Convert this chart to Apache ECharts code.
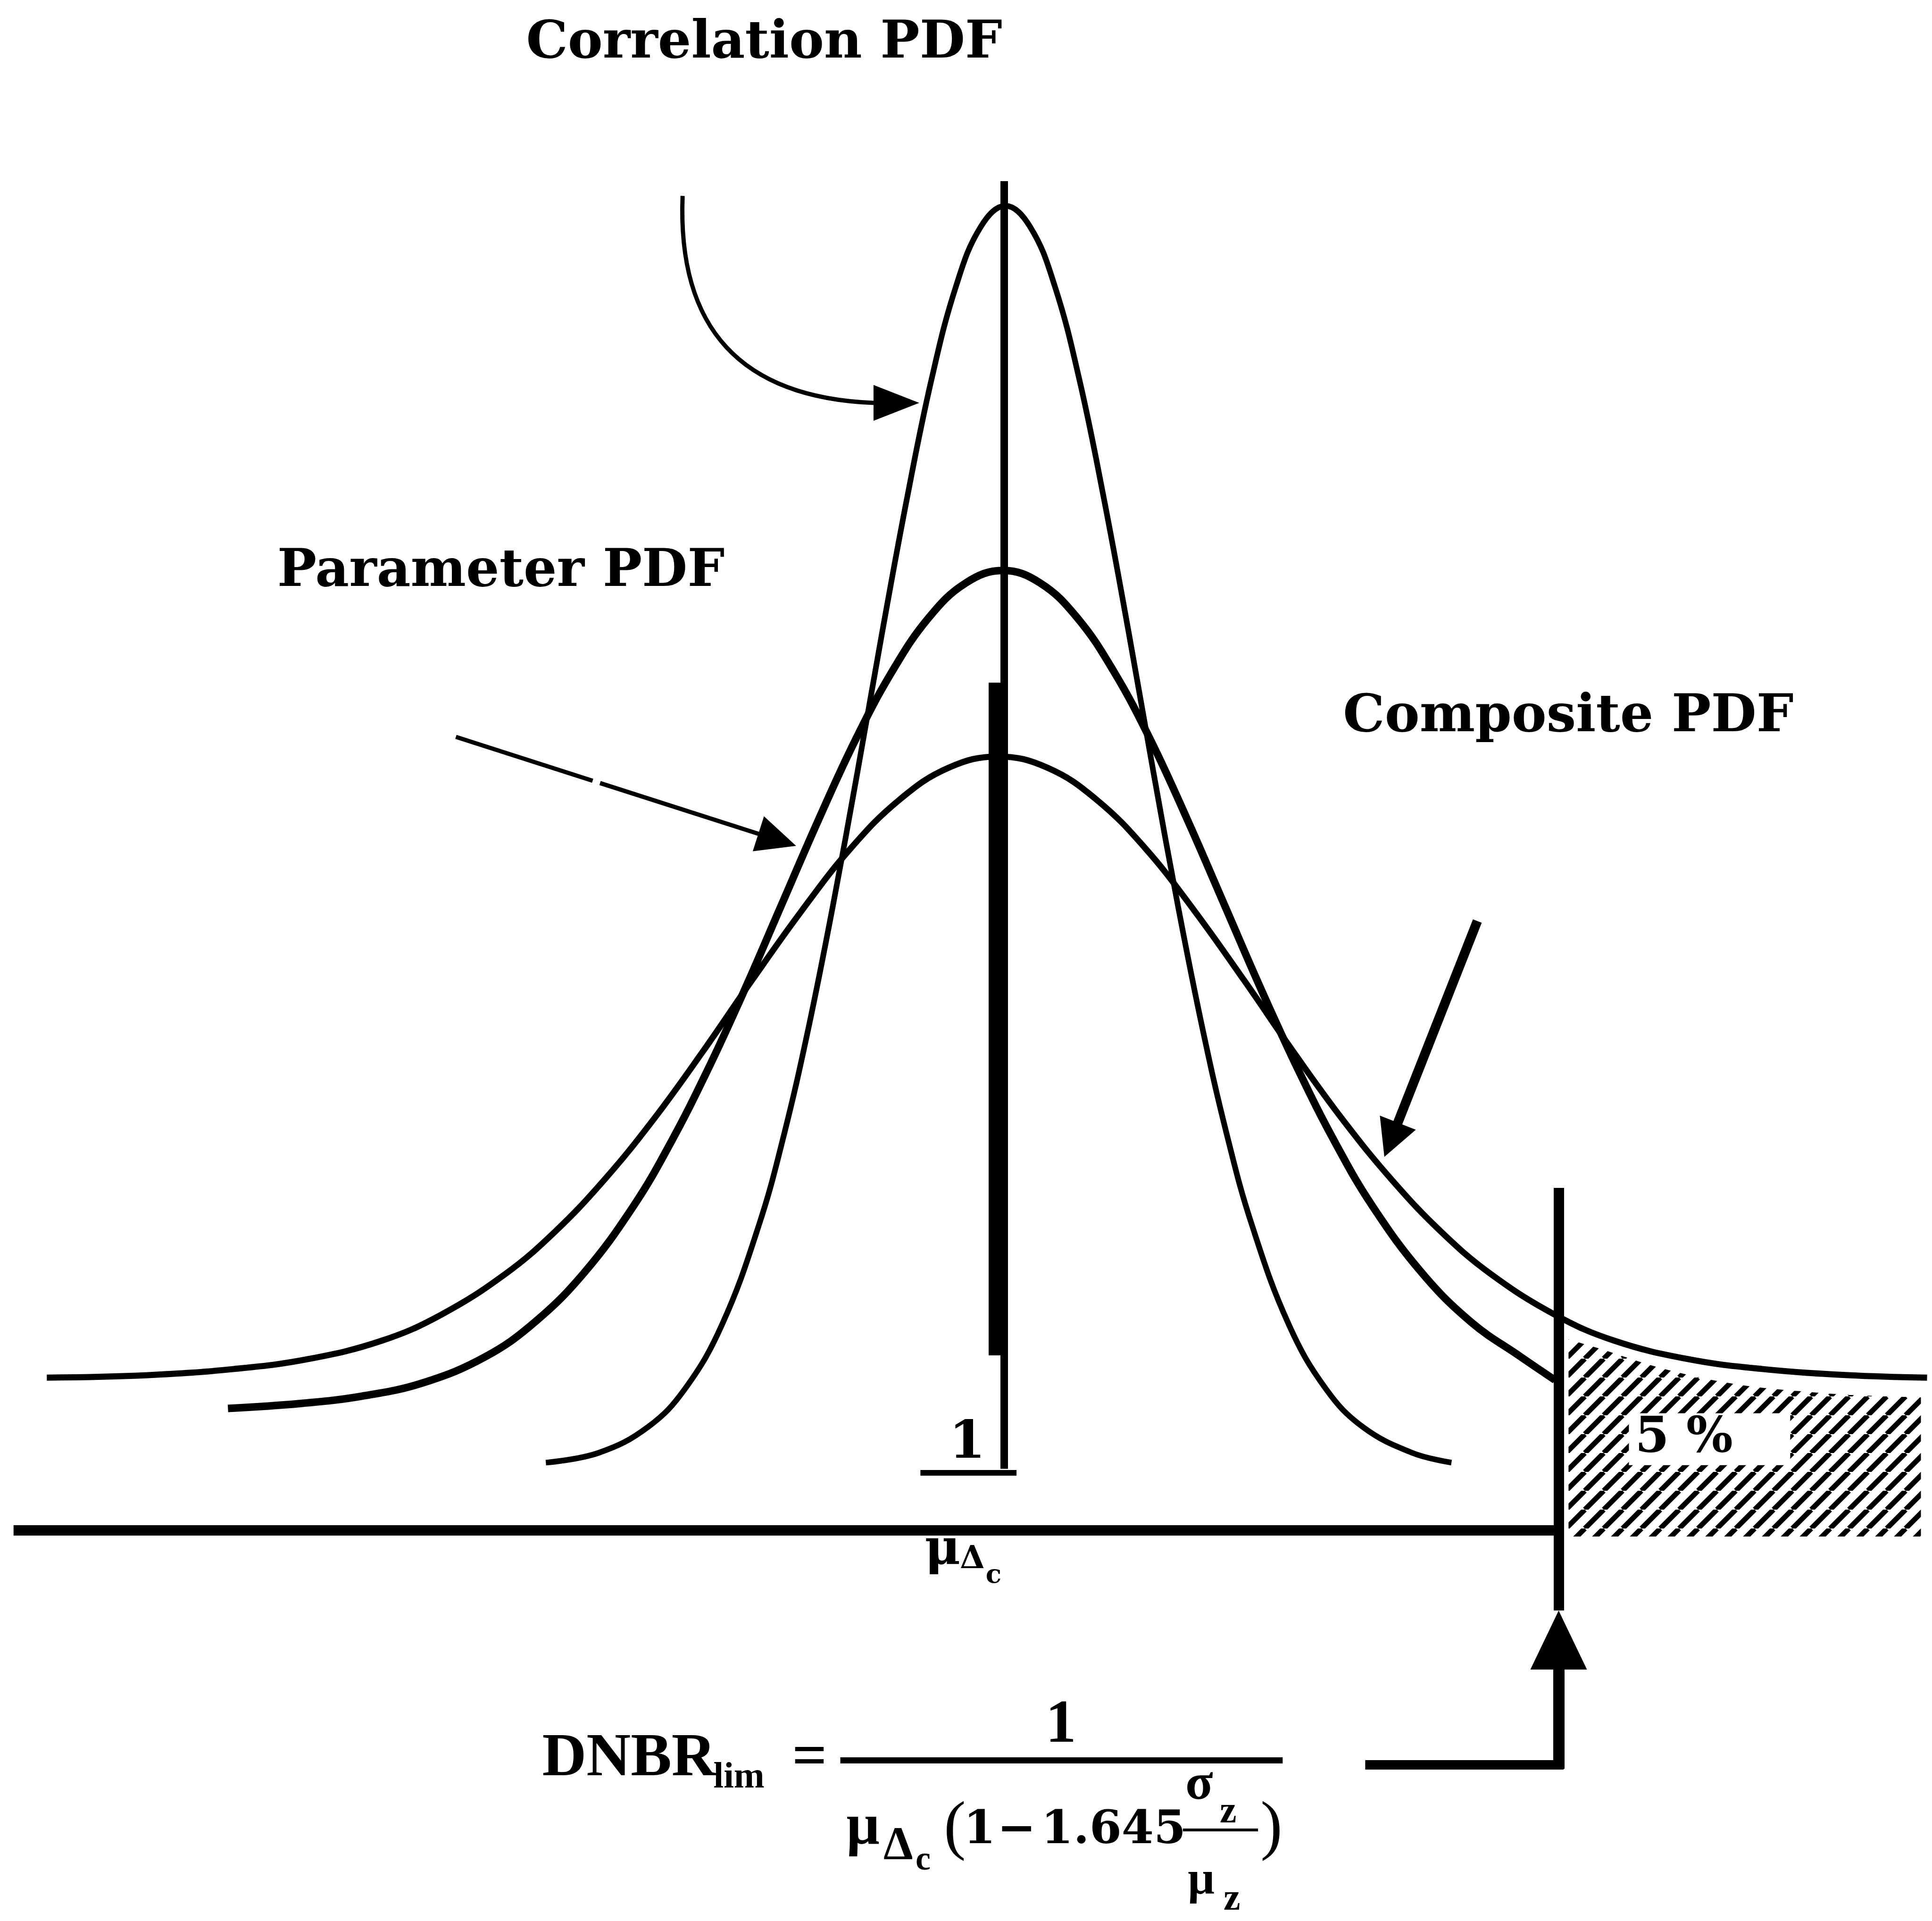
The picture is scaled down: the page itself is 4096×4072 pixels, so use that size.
<!DOCTYPE html>
<html>
<head>
<meta charset="utf-8">
<script src="https://cdn.jsdelivr.net/npm/echarts@6/dist/echarts.min.js"></script>
<style>
html, body { margin: 0; padding: 0; background: #fff; }
#chart { width: 4096px; height: 4072px; }
</style>
</head>
<body>
<div id="chart"></div>
<script>
// x: distance from the mean 1/μΔc, y: density above the axis line (arbitrary units)
const correlationX = [-3.72, -3.29, -2.89, -2.59, -2.29, -1.99, -1.79, -1.59, -1.39, -1.19, -0.99, -0.79, -0.59, -0.39, -0.19, 0.01,
  0.21, 0.41, 0.61, 0.81, 1.01, 1.21, 1.41, 1.61, 1.81, 2.01, 2.31, 2.61, 2.91, 3.31, 3.63];
const correlationY = [0.55, 0.63, 0.84, 1.15, 1.67, 2.48, 3.20, 4.07, 5.07, 6.16, 7.29, 8.37, 9.34, 10.10, 10.58, 10.75,
  10.58, 10.10, 9.34, 8.37, 7.29, 6.16, 5.07, 4.07, 3.20, 2.48, 1.67, 1.15, 0.84, 0.63, 0.55];

const parameterX = [-6.30, -5.71, -5.21, -4.71, -4.21, -3.81, -3.41, -3.01, -2.71, -2.41, -2.11, -1.81, -1.51, -1.21, -0.91, -0.61, -0.31, -0.01,
  0.29, 0.59, 0.89, 1.19, 1.49, 1.79, 2.09, 2.39, 2.69, 2.99, 3.39, 3.79, 4.19, 4.47];
const parameterY = [0.99, 1.03, 1.09, 1.20, 1.41, 1.69, 2.09, 2.63, 3.14, 3.73, 4.38, 5.07, 5.76, 6.41, 6.97, 7.41, 7.69, 7.79,
  7.69, 7.41, 6.97, 6.41, 5.76, 5.07, 4.38, 3.73, 3.14, 2.63, 2.09, 1.69, 1.41, 1.22];

const compositeX = [-7.77, -6.95, -6.25, -5.65, -5.05, -4.57, -4.05, -3.65, -3.25, -2.85, -2.45, -2.05, -1.65, -1.25, -0.85, -0.45, -0.05,
  0.35, 0.75, 1.15, 1.55, 1.95, 2.35, 2.75, 3.15, 3.55, 3.95, 4.47, 4.95, 5.55, 6.15, 6.85, 7.49];
const compositeY = [1.24, 1.26, 1.31, 1.39, 1.54, 1.75, 2.08, 2.42, 2.84, 3.33, 3.88, 4.46, 5.02, 5.53, 5.93, 6.19, 6.28,
  6.19, 5.93, 5.53, 5.02, 4.46, 3.88, 3.33, 2.84, 2.42, 2.08, 1.75, 1.54, 1.39, 1.31, 1.26, 1.24];

// shaded 5 % tail beyond the limit
const tailX = [4.58, 4.85, 5.25, 5.65, 6.05, 6.45, 6.85, 7.44];
const tailY = [1.55, 1.47, 1.34, 1.24, 1.17, 1.13, 1.10, 1.08];

const meanX = 0;        // 1/μΔc
const limitX = 4.50;    // DNBR limit
const curveNames = ['Correlation PDF', 'Parameter PDF', 'Composite PDF'];
const tailText = '5 %';

// ---------------------------------------------------------------------------
const TYPE = 'DejaVu Serif';
const MATH = 'Liberation Serif';
const K = '#000';

const pts = (xs, ys) => xs.map((x, i) => [x, ys[i]]);

function hatchPattern() {
  const c = document.createElement('canvas');
  c.width = 40; c.height = 40;
  const g = c.getContext('2d');
  g.strokeStyle = K; g.lineWidth = 11;
  g.beginPath();
  for (let k = -1; k <= 1; k++) { g.moveTo(k * 40, 40); g.lineTo(k * 40 + 40, 0); }
  g.stroke();
  return c;
}

// straight strokes and arrows in data space
function seg(a, b, width, head) {
  const from = {
    coord: a, symbol: 'none',
    lineStyle: { color: K, width: width, type: 'solid', opacity: 1 },
    itemStyle: { color: K }
  };
  const to = { coord: b, symbol: head ? 'triangle' : 'none' };
  if (head) to.symbolSize = head;
  return [from, to];
}

const yh = -1.90; // level of the lead line beside the formula

const strokes = [
  // axis line up to the limit
  seg([-8.04, 0], [limitX + 0.02, 0], 22),
  // mean line and heavy marker
  seg([meanX, 10.95], [meanX, 0.50], 16),
  seg([meanX - 0.055, 6.88], [meanX - 0.055, 1.42], 38),
  // limit line and pointer from the formula
  seg([limitX, 2.78], [limitX, -0.65], 22),
  seg([limitX, yh - 0.035], [limitX, -0.89], 24, [120, 125]),
  seg([2.93, yh], [limitX + 0.04, yh], 20),
  // fraction bar under the mean
  seg([-0.68, 0.47], [0.10, 0.47], 12),
  // formula fraction bars
  seg([-1.33, -1.865], [2.26, -1.865], 13),
  seg([1.45, -2.43], [2.06, -2.43], 6),
  // head of the curved pointer
  seg([-1.00, 9.15], [-0.875, 9.15], 1, [76, 97]),
  // pointer to the parameter curve (broken shaft)
  seg([-4.45, 6.44], [-3.34, 6.084], 9),
  seg([-3.28, 6.065], [-1.842, 5.604], 9, [78, 84]),
  // pointer to the composite curve
  seg([3.84, 4.945], [3.14, 3.17], 20, [82, 78])
];

// text pieces: [text, x, y, family, size, weight, align]
const texts = [
  [curveNames[0], -3.88, 12.065, TYPE, 111, 'bold', 'left'],
  [curveNames[1], -5.90, 7.775, TYPE, 111, 'bold', 'left'],
  [curveNames[2], 2.75, 6.595, TYPE, 111, 'bold', 'left'],
  // 1 / μΔc under the mean
  ['1', -0.30, 0.70, TYPE, 111, 'bold', 'center'],
  ['μ', -0.645, -0.17, TYPE, 104, 'bold', 'left'],
  ['Δ', -0.36, -0.24, TYPE, 68, 'bold', 'left'],
  ['c', -0.15, -0.37, TYPE, 55, 'bold', 'left'],
  // DNBR_lim = 1 / (μΔc (1 − 1.645 σz/μz))
  ['DNBR', -3.75, -1.86, MATH, 130, 'bold', 'left'],
  ['lim', -2.36, -2.01, MATH, 78, 'bold', 'left'],
  ['=', -1.58, -1.86, MATH, 130, 'bold', 'center'],
  ['1', 0.46, -1.585, MATH, 130, 'bold', 'center'],
  ['μ', -1.28, -2.42, MATH, 124, 'bold', 'left'],
  ['Δ', -0.98, -2.57, MATH, 100, 'bold', 'left'],
  ['c', -0.72, -2.68, MATH, 72, 'bold', 'left'],
  ['(', -0.49, -2.43, MATH, 140, 'normal', 'left'],
  ['1', -0.33, -2.44, TYPE, 98, 'bold', 'left'],
  ['\u2212', 0.10, -2.44, TYPE, 98, 'bold', 'center'],
  ['1.645', 0.30, -2.44, TYPE, 98, 'bold', 'left'],
  ['σ', 1.47, -2.07, MATH, 108, 'bold', 'left'],
  ['z', 1.75, -2.29, MATH, 80, 'bold', 'left'],
  ['μ', 1.49, -2.85, MATH, 100, 'bold', 'left'],
  ['z', 1.78, -3.00, MATH, 80, 'bold', 'left'],
  [')', 2.08, -2.43, MATH, 140, 'normal', 'left']
];

const textData = texts.map(([t, x, y, fam, size, weight, align]) => ({
  value: [x, y],
  label: {
    show: true, position: 'inside', formatter: t, color: K, opacity: 1,
    fontFamily: fam, fontSize: size, fontWeight: weight, lineHeight: size,
    align: align, verticalAlign: 'middle', padding: 0
  }
}));
// 5 % note on a white plate inside the shaded tail
textData.push({
  value: [5.07, 0.74],
  label: {
    show: true, position: 'inside', formatter: tailText, color: K, opacity: 1,
    fontFamily: TYPE, fontSize: 104, fontWeight: 'bold', lineHeight: 110,
    align: 'left', verticalAlign: 'middle',
    width: 329, height: 110, padding: [0, 0, 0, 13], backgroundColor: '#fff'
  }
});

const curve = (name, xs, ys, width) => ({
  name: name, type: 'line', data: pts(xs, ys), smooth: 0.4,
  showSymbol: false, symbol: 'none', z: 3,
  lineStyle: { color: K, width: width }
});

const option = {
  animation: false,
  backgroundColor: '#fff',
  grid: { left: 0, right: 0, top: 0, bottom: 0 },
  xAxis: { type: 'value', min: -8.15, max: 7.53, show: false },
  yAxis: { type: 'value', min: -3.17, max: 12.42, show: false },
  series: [
    {
      name: 'tail', type: 'line', data: pts(tailX, tailY), smooth: 0.3,
      showSymbol: false, symbol: 'none', z: 1,
      lineStyle: { width: 0 },
      areaStyle: { color: { image: hatchPattern(), repeat: 'repeat' }, opacity: 1, origin: -0.05 }
    },
    curve(curveNames[0], correlationX, correlationY, 12),
    curve(curveNames[1], parameterX, parameterY, 16),
    curve(curveNames[2], compositeX, compositeY, 13),
    {
      name: 'strokes', type: 'line', data: [], z: 4,
      markLine: {
        silent: true, animation: false, symbol: 'none',
        label: { show: false }, emphasis: { disabled: true },
        data: strokes
      }
    },
    {
      // curved pointer from the correlation label
      name: 'pointer', type: 'lines', coordinateSystem: 'cartesian2d', z: 4,
      silent: true, symbol: 'none',
      lineStyle: { color: K, width: 9, opacity: 1, curveness: -0.5 },
      data: [{ coords: [[-2.61, 10.83], [-1.06, 9.15]] }]
    },
    {
      name: 'text', type: 'scatter', data: textData, symbol: 'circle', symbolSize: 0,
      silent: true, z: 6, itemStyle: { color: K, opacity: 1 }
    }
  ]
};

const chart = echarts.init(document.getElementById('chart'), null, { renderer: 'canvas' });
chart.setOption(option);
</script>
</body>
</html>
